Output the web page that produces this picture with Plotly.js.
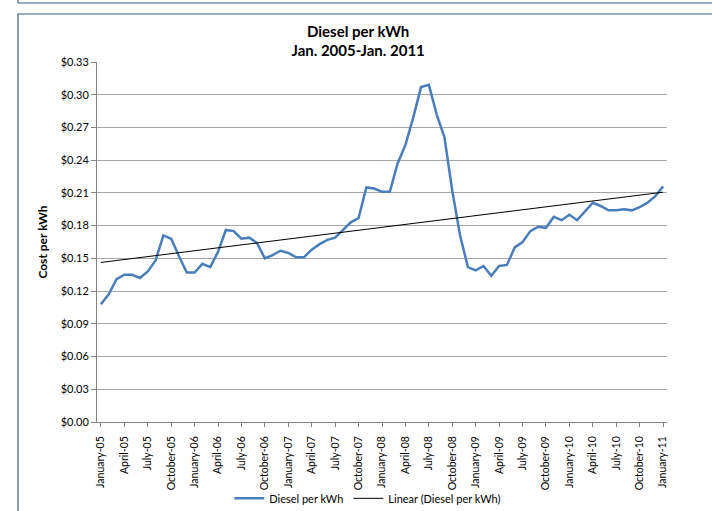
<!DOCTYPE html>
<html>
<head>
<meta charset="utf-8">
<script src="https://cdn.plot.ly/plotly-3.0.1.min.js"></script>
<style>html,body{margin:0;padding:0;background:#fff;}#chart{width:712px;height:511px;}</style>
</head>
<body>
<div id="chart"></div>
<script>
// Month names and years used for the category labels
const monthNames = ["January","February","March","April","May","June","July","August","September","October","November","December"];
const years = ["05","06","07","08","09","10","11"];

// Diesel cost per kWh, monthly Jan-2005 .. Jan-2011
const dieselPerKwh = [
  0.108, 0.117, 0.131, 0.135, 0.135, 0.132, 0.138, 0.148, 0.171, 0.168, 0.152, 0.137,
  0.137, 0.145, 0.142, 0.156, 0.176, 0.175, 0.168, 0.169, 0.164, 0.150, 0.153, 0.157,
  0.155, 0.151, 0.151, 0.158, 0.163, 0.167, 0.169, 0.176, 0.183, 0.187, 0.215, 0.214,
  0.211, 0.211, 0.237, 0.254, 0.279, 0.307, 0.309, 0.282, 0.261, 0.212, 0.171, 0.142,
  0.139, 0.143, 0.134, 0.143, 0.144, 0.160, 0.165, 0.175, 0.179, 0.178, 0.188, 0.185,
  0.190, 0.185, 0.193, 0.201, 0.198, 0.194, 0.194, 0.195, 0.194, 0.197, 0.201, 0.207,
  0.216
];

// Category labels (one per month)
const categories = [];
for (let i = 0; i < dieselPerKwh.length; i++) {
  categories.push(monthNames[i % 12] + "-" + years[Math.floor(i / 12)]);
}
// Labelled ticks: every third month
const tickLabels = categories.filter((c, i) => i % 3 === 0);

// Linear trend (least squares over the series)
const n = dieselPerKwh.length;
let sx = 0, sy = 0, sxy = 0, sxx = 0;
for (let i = 0; i < n; i++) { sx += i; sy += dieselPerKwh[i]; sxy += i * dieselPerKwh[i]; sxx += i * i; }
const slope = (n * sxy - sx * sy) / (n * sxx - sx * sx);
const intercept = (sy - slope * sx) / n;
const trend = dieselPerKwh.map((v, i) => intercept + slope * i);

const font = "Lato, 'Open Sans', sans-serif";

const traces = [
  {
    x: categories, y: dieselPerKwh, type: "scatter", mode: "lines",
    name: "Diesel per kWh",
    line: {color: "#4a7ebb", width: 2.5}
  },
  {
    x: categories, y: trend, type: "scatter", mode: "lines",
    name: "Linear (Diesel per kWh)",
    line: {color: "#000000", width: 1}
  }
];

const layout = {
  width: 712, height: 511,
  margin: {l: 97, r: 45, t: 62, b: 89, autoexpand: false},
  paper_bgcolor: "#ffffff", plot_bgcolor: "#ffffff",
  font: {family: font, size: 11, color: "#404040"},
  title: {
    text: "<b>Diesel per kWh<br>Jan. 2005-Jan. 2011</b>",
    font: {family: font, size: 15, color: "#000000"},
    x: 0.503, xref: "container", xanchor: "center",
    y: 0.928, yref: "container", yanchor: "middle"
  },
  xaxis: {
    type: "category",
    range: [-0.5, n - 0.5],
    tickmode: "array", tickvals: tickLabels, ticktext: tickLabels,
    tickangle: -90,
    ticks: "outside", ticklen: 4, tickcolor: "#868686",
    ticklabelstandoff: 5,
    showline: true, linecolor: "#868686", linewidth: 1,
    showgrid: false, zeroline: false,
    tickfont: {family: font, size: 10.5, color: "#000000"},
    automargin: false
  },
  yaxis: {
    range: [0, 0.33], dtick: 0.03, tick0: 0,
    tickprefix: "$", tickformat: ".2f",
    ticks: "outside", ticklen: 5, tickcolor: "#868686",
    showline: true, linecolor: "#868686", linewidth: 1,
    showgrid: true, gridcolor: "#a6a6a6", gridwidth: 1,
    zeroline: false,
    tickfont: {family: font, size: 11, color: "#000000"},
    title: {text: "<b>Cost per kWh</b>", font: {family: font, size: 12, color: "#000000"}, standoff: 10},
    automargin: false
  },
  showlegend: true,
  legend: {
    orientation: "h", x: 0.475, xanchor: "center", y: -0.212, yanchor: "middle",
    font: {family: font, size: 11, color: "#000000"},
    bgcolor: "rgba(0,0,0,0)", itemwidth: 30
  },
  shapes: [
    {type: "rect", xref: "paper", yref: "paper", x0: -0.1386, x1: 1.3, y0: -0.4, y1: 1.1333,
     line: {color: "#385d8a", width: 1.2}, fillcolor: "rgba(0,0,0,0)", layer: "below"},
    {type: "line", xref: "paper", yref: "paper", x0: -0.1386, x1: 1.3, y0: 1.1639, y1: 1.1639,
     line: {color: "#385d8a", width: 1.2}},
    {type: "line", xref: "paper", yref: "paper", x0: -0.1386, x1: -0.1386, y0: 1.1639, y1: 1.3,
     line: {color: "#385d8a", width: 1.2}}
  ]
};

Plotly.newPlot("chart", traces, layout, {displayModeBar: false, staticPlot: true});
</script>
</body>
</html>
